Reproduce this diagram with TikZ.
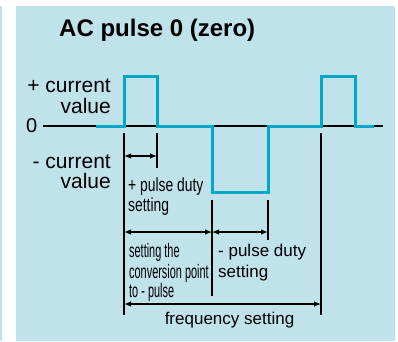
\documentclass[tikz,border=0pt]{standalone}
\usepackage{fontspec}
\setmainfont{Liberation Sans}
\newfontfamily\narrowA[FakeStretch=0.73]{Liberation Sans}
\newfontfamily\narrowB[FakeStretch=0.56]{Liberation Sans}
\usetikzlibrary{arrows.meta}
\definecolor{panel}{RGB}{192,226,234}
\definecolor{wave}{RGB}{0,168,200}
\tikzset{
  lbl/.style={inner sep=0pt, font=\fontsize{21}{21}\selectfont},
  lblz/.style={inner sep=0pt, font=\fontsize{20}{20}\selectfont},
  lblm/.style={inner sep=0pt, font=\fontsize{17}{17}\selectfont},
  lbla/.style={inner sep=0pt, font=\narrowA\fontsize{19}{19}\selectfont},
  lblb/.style={inner sep=0pt, font=\narrowB\fontsize{19.5}{19.5}\selectfont},
  tick/.style={black, line width=1.2pt},
  dim/.style={black, line width=1.2pt, {Latex[length=7pt,width=5.5pt]}-{Latex[length=7pt,width=5.5pt]}},
  sig/.style={wave, line width=3pt, line join=miter}
}
\begin{document}
\begin{tikzpicture}[x=1pt,y=-1pt]
\useasboundingbox (0,0) rectangle (398,341);
\fill[white] (0,0) rectangle (398,341);
\fill[panel] (0,6) rectangle (2,341);
\fill[panel] (16,6) rectangle (395,341);
% title
\node[inner sep=0pt, anchor=base west, font=\bfseries\fontsize{24}{24}\selectfont] (title) at (59,36) {AC pulse 0 (zero)};
% axis labels
\node[lbl, anchor=base east] (pc1) at (111,92) {+ current};
\node[lbl, anchor=base east] (pc2) at (111,113) {value};
\node[lblz, anchor=base west] (zero) at (26,132.5) {0};
\node[lbl, anchor=base east] (mc1) at (111,168) {- current};
\node[lbl, anchor=base east] (mc2) at (111,188) {value};
% coordinates
\coordinate (z0) at (43,126);
\coordinate (z1) at (383,126);
\coordinate (w0) at (96,126);
\coordinate (a) at (124,126);
\coordinate (b) at (157,126);
\coordinate (c) at (212,126);
\coordinate (d) at (268,126);
\coordinate (e) at (321,126);
\coordinate (f) at (355,126);
\coordinate (w1) at (374,126);
% zero line
\draw[black, line width=1.2pt] (z0) -- (z1);
% waveform
\draw[sig] (w0) -- (a) -- ++(0,-50) -| (b) -- (c) -- ++(0,66) -| (d) -- (e) -- ++(0,-50) -| (f) -- (w1);
% ticks
\coordinate (ta0) at (124,133); \coordinate (ta1) at (124,315);
\coordinate (tb0) at (157,133); \coordinate (tb1) at (157,168);
\coordinate (tc0) at (212,200); \coordinate (tc1) at (212,296);
\coordinate (td0) at (268,200); \coordinate (td1) at (268,240);
\coordinate (te0) at (321,133); \coordinate (te1) at (321,315);
\draw[tick] (ta0) -- (ta1);
\draw[tick] (tb0) -- (tb1);
\draw[tick] (tc0) -- (tc1);
\draw[tick] (td0) -- (td1);
\draw[tick] (te0) -- (te1);
% dimension arrows
\coordinate (d1a) at (124,156); \coordinate (d1b) at (157,156);
\coordinate (d2a) at (124,232); \coordinate (d2b) at (212,232);
\coordinate (d3a) at (212,232); \coordinate (d3b) at (268,232);
\coordinate (d4a) at (124,304); \coordinate (d4b) at (321,304);
\draw[dim] (d1a) -- (d1b);
\draw[dim] (d2a) -- (d2b);
\draw[dim] (d3a) -- (d3b);
\draw[dim] (d4a) -- (d4b);
% labels
\node[lbla, anchor=base west] (pd1) at (128,191) {+ pulse duty};
\node[lbla, anchor=base west] (pd2) at (128,211) {setting};
\node[lblb, anchor=base west] (cp1) at (129,257) {setting the};
\node[lblb, anchor=base west] (cp2) at (129,278) {conversion point};
\node[lblb, anchor=base west] (cp3) at (129,297) {to - pulse};
\node[lblm, anchor=base west] (md1) at (218,256) {- pulse duty};
\node[lblm, anchor=base west] (md2) at (218,277) {setting};
\node[lblm, anchor=base] (fs) at (229.5,324) {frequency setting};
\end{tikzpicture}
\end{document}
